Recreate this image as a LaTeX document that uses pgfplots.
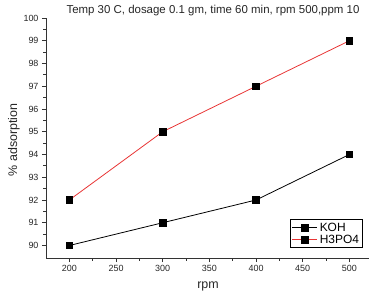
\documentclass[border=0pt]{standalone}
\usepackage{pgfplots}
\pgfplotsset{compat=1.18}
\usepackage{fontspec}
\setmainfont{Liberation Sans}
\definecolor{seriesred}{RGB}{232,52,52}
\begin{document}
\begin{tikzpicture}[x=1bp,y=1bp]
\useasboundingbox (0,0) rectangle (369,294);
\begin{axis}[
  at={(46bp,36bp)}, anchor=south west,
  scale only axis,
  width=323bp, height=240bp,
  xmin=175, xmax=521,
  ymin=89.45, ymax=100,
  axis x line*=bottom, axis y line*=left,
  axis line style={line width=1pt, black!80},
  xtick={200,250,...,500},
  ytick={90,91,...,100},
  minor x tick num=1,
  minor y tick num=1,
  tick align=outside,
  major tick length=4bp,
  minor tick length=2.5bp,
  tick style={line width=0.8pt, black!80},
  /pgf/number format/assume math mode=true,
  /pgf/number format/1000 sep={},
  ticklabel style={font=\fontsize{9}{11}\selectfont, text=black!85},
  clip=false,
  legend style={
    at={(rel axis cs:0.981,0.042)}, anchor=south east,
    font=\fontsize{12}{13}\selectfont,
    draw=black, line width=0.8pt,
    inner xsep=1.5bp, inner ysep=1bp,
    row sep=-2bp,
    cells={anchor=west},
  },
  legend image code/.code={
    \draw[mark repeat=2,mark phase=2,#1]
      plot coordinates {(0bp,0bp) (12.5bp,0bp) (25bp,0bp)};
  },
]
% KOH series
\addplot[black, line width=0.8pt, mark=square*, mark size=3.3bp,
         mark options={fill=black, draw=black}]
  coordinates {(200,90) (300,91) (400,92) (500,94)};
\addlegendentry{KOH}
% H3PO4 series
\addplot[seriesred, line width=0.8pt, mark=square*, mark size=3.3bp,
         mark options={fill=black, draw=black}]
  coordinates {(200,92) (300,95) (400,97) (500,99)};
\addlegendentry{H3PO4}
\end{axis}
% title and axis labels
\node[font=\fontsize{11.5}{13}\selectfont, text=black!85, anchor=base west]
  at (63,280.7) {Temp 30 C, dosage 0.1 gm, time 60 min, rpm 500,ppm 10};
\node[font=\fontsize{12.5}{14}\selectfont, text=black!85, anchor=base]
  at (208,5.5) {rpm};
\node[font=\fontsize{12.5}{14}\selectfont, text=black!85, anchor=base, rotate=90]
  at (17,154) {\% adsorption};
\end{tikzpicture}
\end{document}
